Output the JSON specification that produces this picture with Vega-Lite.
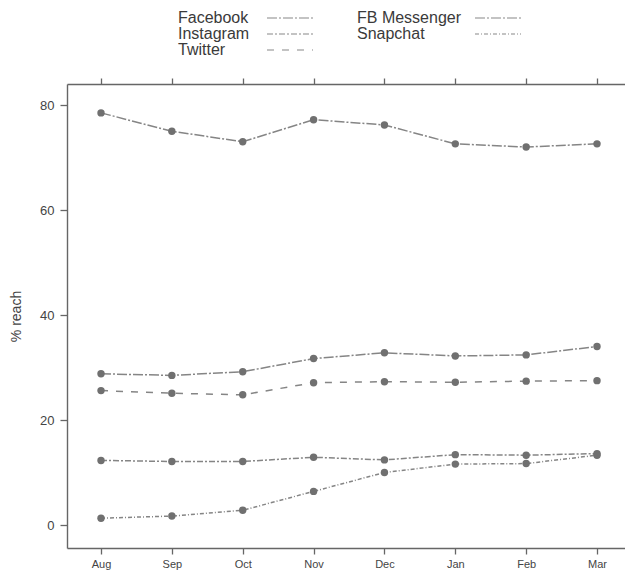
{
  "$schema": "https://vega.github.io/schema/vega-lite/v6.json",
  "width": 558,
  "height": 464,
  "autosize": "none",
  "padding": {"left": 67, "top": 84, "right": 0, "bottom": 26},
  "background": "white",
  "config": {
    "view": {"stroke": null},
    "font": "Liberation Sans",
    "axis": {"grid": false, "domainColor": "#666", "domainWidth": 1.4, "tickColor": "#666", "tickWidth": 1.3, "labelColor": "#444", "titleColor": "#444", "titleFontWeight": "normal"}
  },
  "data": {
    "values": [
      {"series": "Facebook", "month": "Aug", "t": 0, "reach": 78.5},
      {"series": "Facebook", "month": "Sep", "t": 1, "reach": 75.0},
      {"series": "Facebook", "month": "Oct", "t": 2, "reach": 73.0},
      {"series": "Facebook", "month": "Nov", "t": 3, "reach": 77.2},
      {"series": "Facebook", "month": "Dec", "t": 4, "reach": 76.2},
      {"series": "Facebook", "month": "Jan", "t": 5, "reach": 72.6},
      {"series": "Facebook", "month": "Feb", "t": 6, "reach": 72.0},
      {"series": "Facebook", "month": "Mar", "t": 7, "reach": 72.6},
      {"series": "FB Messenger", "month": "Aug", "t": 0, "reach": 28.8},
      {"series": "FB Messenger", "month": "Sep", "t": 1, "reach": 28.5},
      {"series": "FB Messenger", "month": "Oct", "t": 2, "reach": 29.2},
      {"series": "FB Messenger", "month": "Nov", "t": 3, "reach": 31.7},
      {"series": "FB Messenger", "month": "Dec", "t": 4, "reach": 32.8},
      {"series": "FB Messenger", "month": "Jan", "t": 5, "reach": 32.2},
      {"series": "FB Messenger", "month": "Feb", "t": 6, "reach": 32.4},
      {"series": "FB Messenger", "month": "Mar", "t": 7, "reach": 34.0},
      {"series": "Twitter", "month": "Aug", "t": 0, "reach": 25.6},
      {"series": "Twitter", "month": "Sep", "t": 1, "reach": 25.1},
      {"series": "Twitter", "month": "Oct", "t": 2, "reach": 24.8},
      {"series": "Twitter", "month": "Nov", "t": 3, "reach": 27.1},
      {"series": "Twitter", "month": "Dec", "t": 4, "reach": 27.3},
      {"series": "Twitter", "month": "Jan", "t": 5, "reach": 27.2},
      {"series": "Twitter", "month": "Feb", "t": 6, "reach": 27.4},
      {"series": "Twitter", "month": "Mar", "t": 7, "reach": 27.5},
      {"series": "Instagram", "month": "Aug", "t": 0, "reach": 12.3},
      {"series": "Instagram", "month": "Sep", "t": 1, "reach": 12.1},
      {"series": "Instagram", "month": "Oct", "t": 2, "reach": 12.1},
      {"series": "Instagram", "month": "Nov", "t": 3, "reach": 12.9},
      {"series": "Instagram", "month": "Dec", "t": 4, "reach": 12.4},
      {"series": "Instagram", "month": "Jan", "t": 5, "reach": 13.4},
      {"series": "Instagram", "month": "Feb", "t": 6, "reach": 13.3},
      {"series": "Instagram", "month": "Mar", "t": 7, "reach": 13.6},
      {"series": "Snapchat", "month": "Aug", "t": 0, "reach": 1.3},
      {"series": "Snapchat", "month": "Sep", "t": 1, "reach": 1.7},
      {"series": "Snapchat", "month": "Oct", "t": 2, "reach": 2.8},
      {"series": "Snapchat", "month": "Nov", "t": 3, "reach": 6.4},
      {"series": "Snapchat", "month": "Dec", "t": 4, "reach": 10.0},
      {"series": "Snapchat", "month": "Jan", "t": 5, "reach": 11.6},
      {"series": "Snapchat", "month": "Feb", "t": 6, "reach": 11.7},
      {"series": "Snapchat", "month": "Mar", "t": 7, "reach": 13.3}
    ]
  },
  "layer": [
    {
      "transform": [{"filter": {"field": "series", "oneOf": ["Facebook", "Instagram", "Twitter"]}}],
      "mark": {"type": "line", "stroke": "#858585", "strokeWidth": 1.5},
      "encoding": {
        "x": {
          "field": "t", "type": "quantitative",
          "scale": {"domain": [-0.48, 7.395], "nice": false, "zero": false},
          "axis": {"values": [0, 1, 2, 3, 4, 5, 6, 7], "labelExpr": "['Aug','Sep','Oct','Nov','Dec','Jan','Feb','Mar'][datum.value]", "title": null, "tickSize": 6, "labelFontSize": 11, "labelPadding": 4}
        },
        "y": {
          "field": "reach", "type": "quantitative",
          "scale": {"domain": [-4.38, 84], "nice": false, "zero": false},
          "axis": {"values": [0, 20, 40, 60, 80], "title": "% reach", "titleFontSize": 14, "titleX": -51, "titleBaseline": "middle", "tickSize": 7, "labelFontSize": 13, "labelPadding": 6}
        },
        "strokeDash": {
          "field": "series", "type": "nominal",
          "scale": {"domain": ["Facebook", "Instagram", "Twitter"], "range": [[10, 2, 2, 2], [6, 2, 2, 2], [7, 8]]},
          "legend": {"orient": "none", "legendX": 111, "legendY": -74, "title": null, "direction": "vertical", "symbolType": "M-3.54,0L3.54,0", "symbolSize": 169, "symbolStrokeColor": "#888", "symbolStrokeWidth": 1.2, "symbolOffset": 104, "labelOffset": -120, "labelFontSize": 16, "labelColor": "#3a3a3a", "labelLimit": 300, "rowPadding": 0, "padding": 0}
        }
      }
    },
    {
      "transform": [{"filter": {"field": "series", "oneOf": ["FB Messenger", "Snapchat"]}}],
      "mark": {"type": "line", "stroke": "#858585", "strokeWidth": 1.5},
      "encoding": {
        "x": {"field": "t", "type": "quantitative", "axis": null},
        "y": {"field": "reach", "type": "quantitative"},
        "strokeDash": {
          "field": "series", "type": "nominal",
          "scale": {"domain": ["FB Messenger", "Snapchat"], "range": [[10, 2, 2, 2], [4, 2, 1, 2]]},
          "legend": {"orient": "none", "legendX": 290, "legendY": -74, "title": null, "direction": "vertical", "symbolType": "M-3.54,0L3.54,0", "symbolSize": 169, "symbolStrokeColor": "#888", "symbolStrokeWidth": 1.2, "symbolOffset": 133, "labelOffset": -149, "labelFontSize": 16, "labelColor": "#3a3a3a", "labelLimit": 300, "rowPadding": 0, "padding": 0}
        }
      }
    },
    {
      "mark": {"type": "point", "filled": true, "shape": "circle", "size": 55, "color": "#707070", "opacity": 1},
      "encoding": {
        "x": {"field": "t", "type": "quantitative", "axis": {"orient": "top", "values": [0, 1, 2, 3, 4, 5, 6, 7], "labels": false, "title": null, "tickSize": 6}},
        "y": {"field": "reach", "type": "quantitative"},
        "detail": {"field": "series", "type": "nominal"}
      }
    }
  ],
  "resolve": {"scale": {"strokeDash": "independent"}, "axis": {"x": "independent"}}
}
